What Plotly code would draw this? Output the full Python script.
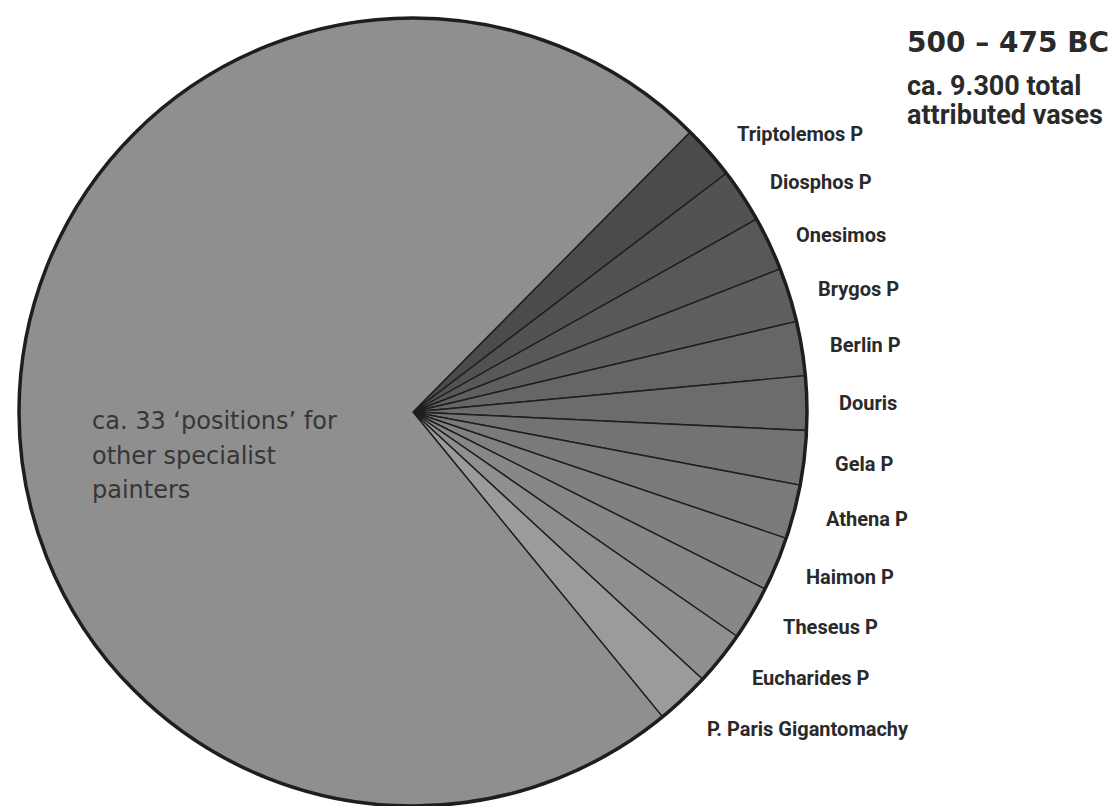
import plotly.graph_objects as go

# ---- data ----
painters = ["Triptolemos P", "Diosphos P", "Onesimos", "Brygos P", "Berlin P", "Douris",
            "Gela P", "Athena P", "Haimon P", "Theseus P", "Eucharides P", "P. Paris Gigantomachy"]
painter_positions = [1, 1, 1, 1, 1, 1, 1, 1, 1, 1, 1, 1]
other_label = "ca. 33 ‘positions’ for other specialist painters"
other_positions = [33]
title_text = "500 – 475 BC"
subtitle_lines = ["ca. 9.300 total", "attributed vases"]
other_lines = ["ca. 33 ‘positions’ for", "other specialist", "painters"]

# ---- styles ----
painter_colors = ["#4b4b4b", "#525252", "#585858", "#5f5f5f", "#666666", "#6c6c6c",
                  "#737373", "#7a7a7a", "#818181", "#878787", "#8f8f8f", "#9b9b9b"]
other_color = "#8f8f8f"

W, H = 1120, 806
cx, cy, r = 413, 412, 394
dom_x = [(cx - r) / W, (cx + r) / W]
dom_y = [1 - (cy + r) / H, 1 - (cy - r) / H]

labels = painters + [other_label]
values = painter_positions + other_positions
colors = painter_colors + [other_color]

fig = go.Figure()
fig.add_trace(go.Pie(
    labels=labels, values=values, sort=False, direction="clockwise", rotation=44.7,
    marker=dict(colors=colors, line=dict(color="#1e1e1e", width=1.4)),
    textinfo="none", hoverinfo="label", domain=dict(x=dom_x, y=dom_y), showlegend=False,
))
# outer rim
fig.add_trace(go.Pie(
    labels=["rim"], values=[1], sort=False,
    marker=dict(colors=["rgba(0,0,0,0)"], line=dict(color="#1e1e1e", width=3.5)),
    textinfo="none", hoverinfo="skip", domain=dict(x=dom_x, y=dom_y), showlegend=False,
))

annotations = []
# painter labels (positions in pixels)
label_pos = [(800, 134), (821, 182), (841, 235), (858, 289), (865, 345), (868, 403),
             (864, 464), (867, 519), (850, 577), (830, 627), (811, 678), (808, 729)]
for name, (px, py) in zip(painters, label_pos):
    annotations.append(dict(x=px / W, y=1 - py / H, xref="paper", yref="paper",
                            text=name, showarrow=False, xanchor="center", yanchor="middle",
                            font=dict(family="Roboto", size=20, color="#2a2a2a", weight="bold")))
# title block
annotations.append(dict(x=905 / W, y=1 - 42 / H, xref="paper", yref="paper", text=title_text,
                        showarrow=False, xanchor="left", yanchor="middle",
                        font=dict(family="DejaVu Sans", size=28, color="#2a2a2a", weight="bold")))
for line, py in zip(subtitle_lines, [86, 115]):
    annotations.append(dict(x=905 / W, y=1 - py / H, xref="paper", yref="paper", text=line,
                            showarrow=False, xanchor="left", yanchor="middle",
                            font=dict(family="Roboto", size=27, color="#2a2a2a", weight="bold")))
# other slice text
for line, py in zip(other_lines, [421, 456, 490]):
    annotations.append(dict(x=90 / W, y=1 - py / H, xref="paper", yref="paper", text=line,
                            showarrow=False, xanchor="left", yanchor="middle",
                            font=dict(family="DejaVu Sans", size=24, color="#363636")))

fig.update_layout(
    width=W, height=H, margin=dict(l=0, r=0, t=0, b=0),
    paper_bgcolor="white", plot_bgcolor="white",
    annotations=annotations,
)
fig.write_html("out.html")
